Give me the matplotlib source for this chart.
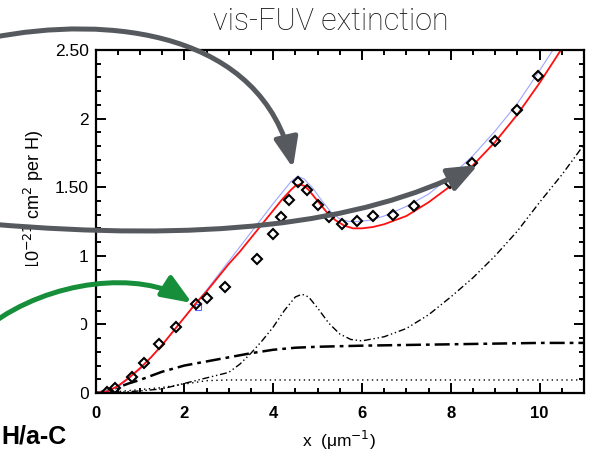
import matplotlib
matplotlib.use('Agg')
import matplotlib.pyplot as plt
import matplotlib.transforms as mtransforms
from matplotlib.patches import FancyArrowPatch, Rectangle
from matplotlib.path import Path

# observed extinction (diamonds)
obs_x = [0.26, 0.44, 0.82, 1.09, 1.43, 1.82, 2.26, 2.50, 2.91, 3.64, 4.00, 4.17, 4.35, 4.56,
         4.76, 5.00, 5.25, 5.54, 5.88, 6.24, 6.70, 7.18, 7.99, 8.48, 9.00, 9.49, 9.97]
obs_y = [0.01, 0.04, 0.12, 0.22, 0.36, 0.48, 0.65, 0.69, 0.77, 0.98, 1.16, 1.28, 1.41, 1.54,
         1.48, 1.37, 1.28, 1.23, 1.25, 1.29, 1.30, 1.36, 1.53, 1.68, 1.84, 2.06, 2.31]

# total model (red)
fit_x = [0, 0.25, 0.5, 0.75, 1.0, 1.25, 1.5, 1.75, 2.0, 2.25, 2.5, 2.75, 3.0, 3.25, 3.5, 3.75,
         4.0, 4.2, 4.4, 4.5, 4.6, 4.7, 4.8, 5.0, 5.2, 5.4, 5.6, 5.8, 6.0, 6.25, 6.5, 7.0, 7.5,
         8.0, 8.5, 9.0, 9.5, 10.0, 10.5]
fit_y = [0, 0.01, 0.05, 0.11, 0.18, 0.26, 0.35, 0.45, 0.55, 0.65, 0.74, 0.84, 0.94, 1.03, 1.13, 1.23,
         1.33, 1.41, 1.48, 1.51, 1.52, 1.51, 1.48, 1.40, 1.32, 1.26, 1.22, 1.20, 1.20, 1.21, 1.23, 1.29, 1.39,
         1.51, 1.66, 1.83, 2.03, 2.26, 2.51]

# second model (light blue)
alt_x = [0, 0.5, 1.0, 1.5, 2.0, 2.5, 3.0, 3.5, 4.0, 4.2, 4.4, 4.55, 4.7, 4.9, 5.1, 5.3, 5.5, 5.7,
         5.9, 6.2, 6.5, 7.0, 7.5, 8.0, 8.5, 9.0, 9.5, 10.0, 10.4]
alt_y = [0, 0.04, 0.17, 0.35, 0.55, 0.75, 0.96, 1.17, 1.38, 1.46, 1.54, 1.58, 1.56, 1.49, 1.40, 1.32, 1.27, 1.25,
         1.25, 1.26, 1.29, 1.36, 1.45, 1.58, 1.73, 1.91, 2.11, 2.35, 2.55]

# components
bump_x = [0, 0.5, 1.0, 1.5, 2.0, 2.5, 3.0, 3.25, 3.5, 3.75, 4.0, 4.25, 4.5, 4.65, 4.8, 5.0, 5.25, 5.5,
          5.75, 6.0, 6.5, 7.0, 7.5, 8.0, 8.5, 9.0, 9.5, 10.0, 10.5, 11.0]
bump_y = [0, 0.005, 0.015, 0.03, 0.07, 0.11, 0.15, 0.21, 0.29, 0.38, 0.48, 0.60, 0.70, 0.72, 0.70, 0.62, 0.51, 0.43,
          0.39, 0.38, 0.41, 0.47, 0.57, 0.70, 0.84, 1.00, 1.18, 1.39, 1.59, 1.81]
flat_x = [0, 0.25, 0.5, 0.75, 1.0, 1.5, 2.0, 2.5, 3.0, 3.5, 4.0, 4.5, 5.0, 6.0, 7.0, 8.0, 9.0, 10.0, 11.0]
flat_y = [0, 0.015, 0.04, 0.07, 0.095, 0.155, 0.20, 0.23, 0.26, 0.29, 0.315, 0.33, 0.337, 0.345, 0.35, 0.355,
          0.36, 0.365, 0.365]
dot_x = [0, 0.5, 1.0, 1.5, 2.0, 2.5, 3.0, 4.0, 6.0, 8.0, 11.0]
dot_y = [0, 0.01, 0.025, 0.04, 0.065, 0.09, 0.095, 0.095, 0.095, 0.095, 0.095]

ytick_vals = [0, 0.5, 1, 1.5, 2, 2.5]
ytick_labels = ['0', '0.50', '1', '1.50', '2', '2.50']
xtick_vals = [0, 2, 4, 6, 8, 10]

W, H = 590, 451
fig = plt.figure(figsize=(W / 100, H / 100), dpi=100)
ax = fig.add_axes([95.5 / W, (H - 393) / H, (584 - 95.5) / W, 343 / H])

ax.plot(bump_x, bump_y, color='black', lw=1.0, dashes=(5, 2, 1, 2, 1, 2))
ax.plot(flat_x, flat_y, color='black', lw=1.8, dashes=(6, 2, 1.5, 2))
ax.plot(dot_x, dot_y, color='black', lw=1.0, dashes=(1, 2.5))
ax.plot(alt_x, alt_y, color='#9da6ff', lw=0.8)
ax.plot([2.3], [0.63], 's', ms=5, mfc='none', mec='#5a6cff', mew=0.8)
ax.plot(fit_x, fit_y, color='#ff1010', lw=1.3)
ax.plot(obs_x, obs_y, 'D', ms=5.5, mfc='none', mec='black', mew=1.5)

ax.set_xlim(0, 11)
ax.set_ylim(0, 2.5)
ax.set_xticks(xtick_vals)
ax.set_xticks([v * 0.5 for v in range(23)], minor=True)
ax.set_yticks(ytick_vals)
ax.set_yticklabels(ytick_labels)
ax.set_yticks([v * 0.1 for v in range(26)], minor=True)
ax.tick_params(which='both', direction='in', top=True, right=True, width=1.4, color='black')
ax.tick_params(which='major', length=7.5)
ax.tick_params(which='minor', length=3.5)
ax.tick_params(axis='y', labelsize=12.5, pad=5)
ax.tick_params(axis='x', labelsize=12, pad=9)
for lab in ax.get_yticklabels():
    lab.set_family('Liberation Sans')
for lab in ax.get_xticklabels():
    lab.set_family('Liberation Sans')
    lab.set_fontweight('bold')
for sp in ax.spines.values():
    sp.set_linewidth(1.6)

fig.text(339 / W, 1 - 440 / H, 'x  (μm$^{-1}$)', fontsize=12.5, family='Liberation Sans',
         ha='center', va='center')
fig.text(34 / W, 1 - 130 / H, 'σ (10$^{-21}$ cm$^2$ per H)', fontsize=13, family='Liberation Sans',
         rotation=90, rotation_mode='anchor', ha='right', va='center')

# white box of the slide covering the left edge
fig.add_artist(Rectangle((0, 0), 81 / W, (H - 266) / H, transform=fig.transFigure,
                         facecolor='white', edgecolor='none', zorder=5))

fig.text(331 / W, 1 - 21 / H, 'vis-FUV extinction', fontsize=22, family='Roboto', weight='light',
         ha='center', va='center', color='#111111')
fig.text(1 / W, 1 - 444 / H, 'H/a-C', fontsize=18, family='Liberation Sans', weight='bold',
         ha='left', va='baseline', zorder=10)

# slide arrows in pixel coordinates (y down)
px = mtransforms.Affine2D().scale(1 / W, -1 / H).translate(0, 1) + fig.transFigure
curve = [Path.MOVETO, Path.CURVE4, Path.CURVE4, Path.CURVE4]
arrows = [
    ([(-10, 38), (110, 14), (262, 32), (293, 168)], '#565a5f'),
    ([(-10, 224), (200, 242), (360, 226), (478, 165)], '#565a5f'),
    ([(-10, 325), (50, 280), (140, 270), (192, 303)], '#178f3a'),
]
for verts, col in arrows:
    arr = FancyArrowPatch(path=Path(verts, curve), arrowstyle='-|>,head_length=1.0,head_width=0.4',
                          mutation_scale=18, lw=3.6, color=col, transform=px, zorder=10)
    fig.add_artist(arr)

fig.savefig('out.png', dpi=100)
